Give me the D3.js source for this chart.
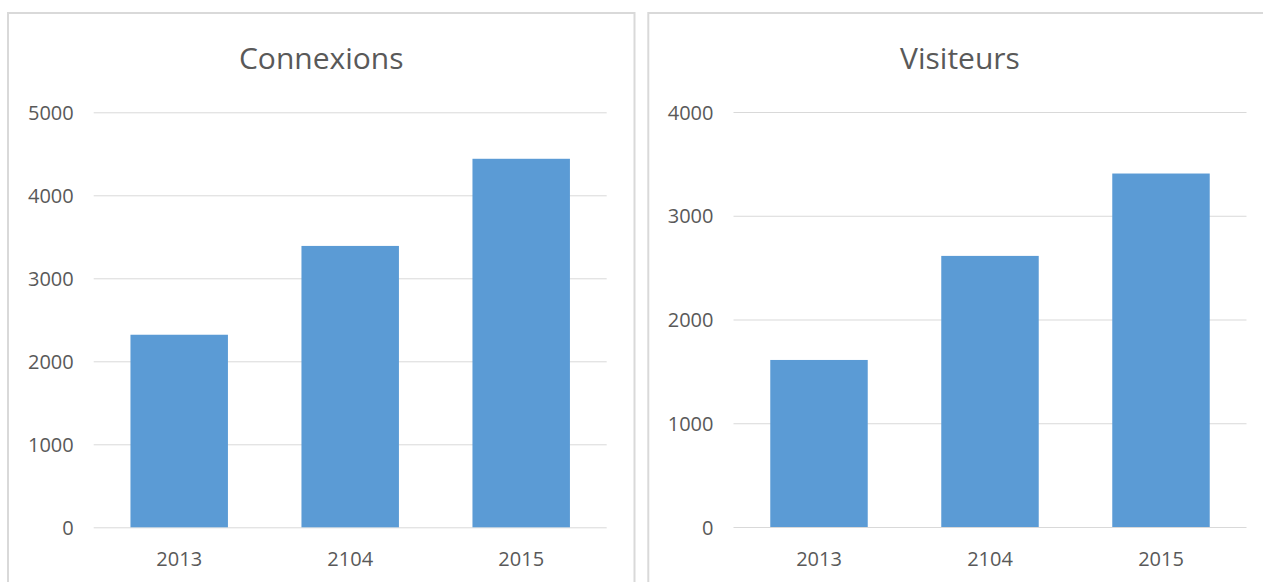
<!DOCTYPE html>
<html lang="fr">
<head>
    <meta charset="UTF-8"/>
    <title>Connexions / Visiteurs</title>
    <script src="https://d3js.org/d3.v7.min.js"></script>
    <style>
        body { margin: 0; background: #fff; }
        text { font-family: "Open Sans", "Noto Sans", sans-serif; fill: #595959; }
        .grid line { stroke: #d9d9d9; stroke-width: 1; }
        .grid .domain, .xaxis .domain { display: none; }
        .bar { fill: #5b9bd5; }
        .panel { fill: none; stroke: #d9d9d9; stroke-width: 2; }
    </style>
</head>
<body>
    <div id="chart"></div>
    <script>
        // data
        var years = ["2013", "2104", "2015"];
        var connexions = [2320, 3390, 4440];
        var visiteurs = [1610, 2613, 3407];
        var connexionsTicks = [0, 1000, 2000, 3000, 4000, 5000];
        var visiteursTicks = [0, 1000, 2000, 3000, 4000];

        var w = 1263;
        var h = 582;

        var svg = d3.select("#chart")
                .append("svg")
                .attr("width", w)
                .attr("height", h);

        function barChart(title, values, ticks, box, plot){
            // panel frame (open at the bottom, like the cropped screenshot)
            svg.append("rect")
                .attr("class", "panel")
                .attr("x", box.x)
                .attr("y", box.y)
                .attr("width", box.w)
                .attr("height", h + 20);

            let xScale = d3.scaleBand()
                    .domain(years)
                    .range([plot.left, plot.right])
                    .paddingInner(0.43)
                    .paddingOuter(0.215);
            let yScale = d3.scaleLinear()
                    .domain([0, d3.max(ticks)])
                    .range([plot.bottom, plot.top]);

            let yAxis = d3.axisLeft()
                    .scale(yScale)
                    .tickValues(ticks)
                    .tickFormat(d3.format("d"))
                    .tickSize(-(plot.right - plot.left))
                    .tickPadding(20);
            let gy = svg.append("g")
                .attr("class", "grid")
                .attr("transform", `translate(${plot.left}, 0)`)
                .call(yAxis);
            gy.selectAll("text")
                .style("font-size", "20px")
                .attr("dy", "0.36em");

            svg.selectAll(null)
                .data(values)
                .enter()
                .append("rect")
                .attr("class", "bar")
                .attr("x", (d, i) => xScale(years[i]))
                .attr("y", d => yScale(d))
                .attr("width", xScale.bandwidth())
                .attr("height", d => plot.bottom - yScale(d));

            let xAxis = d3.axisBottom()
                    .scale(xScale)
                    .tickSize(0)
                    .tickPadding(0);
            let gx = svg.append("g")
                .attr("class", "xaxis")
                .attr("transform", `translate(0, ${plot.bottom})`)
                .call(xAxis);
            gx.selectAll("text")
                .style("font-size", "20px")
                .attr("y", 39)
                .attr("dy", 0);

            // title is centred on the whole panel, not on the plot area
            svg.append("text")
                .attr("x", box.x + box.w / 2)
                .attr("y", 69)
                .attr("text-anchor", "middle")
                .style("font-size", "30px")
                .text(title);
        }

        barChart("Connexions", connexions, connexionsTicks,
            {x: 8, y: 13, w: 626.5},
            {left: 93.7, right: 606.7, top: 112.3, bottom: 527.3});
        barChart("Visiteurs", visiteurs, visiteursTicks,
            {x: 648.3, y: 13, w: 623.4},
            {left: 733.5, right: 1246.5, top: 112, bottom: 527});
    </script>
</body>
</html>
